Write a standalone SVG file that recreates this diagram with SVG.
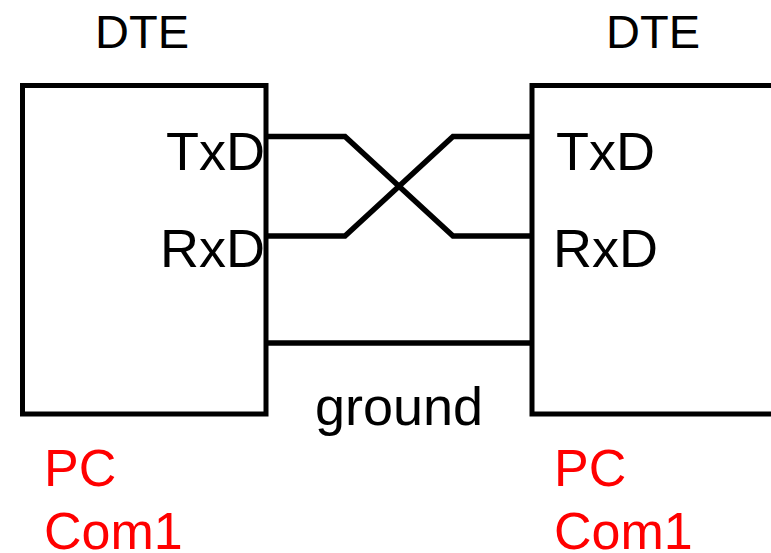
<svg xmlns="http://www.w3.org/2000/svg" width="771" height="553" viewBox="0 0 771 553">
<style>
.box{fill:none;stroke:#000;stroke-width:5}
.wire{fill:none;stroke:#000;stroke-width:5.5;stroke-linejoin:miter}
text{font-family:"Liberation Sans",Arial,sans-serif;fill:#000}
.title{font-size:47px}
.pin{font-size:54px}
.red{font-size:52px;fill:#ff0000}
</style>
<rect width="771" height="553" fill="#fff"/>
<g id="dte-left">
<rect class="box" x="22.5" y="85.5" width="243.5" height="328.5"/>
<text class="title" x="142" y="48" text-anchor="middle">DTE</text>
<text class="pin" x="265" y="170" text-anchor="end">TxD</text>
<text class="pin" x="265" y="267" text-anchor="end">RxD</text>
<text class="red" x="44" y="486">PC</text>
<text class="red" x="44" y="549">Com1</text>
</g>
<g id="dte-right">
<path class="box" d="M775 85.5 H532 V414 H775"/>
<text class="title" x="653" y="48" text-anchor="middle">DTE</text>
<text class="pin" x="556" y="170">TxD</text>
<text class="pin" x="553" y="267">RxD</text>
<text class="red" x="554" y="486">PC</text>
<text class="red" x="554" y="549">Com1</text>
</g>
<g id="connectors">
<polyline class="wire" points="266,136.5 345,136.5 453,236 532,236"/>
<polyline class="wire" points="266,236 345,236 453,136.5 532,136.5"/>
<line class="wire" x1="266" y1="343" x2="532" y2="343"/>
<text class="pin" x="399" y="425" text-anchor="middle">ground</text>
</g>
</svg>
